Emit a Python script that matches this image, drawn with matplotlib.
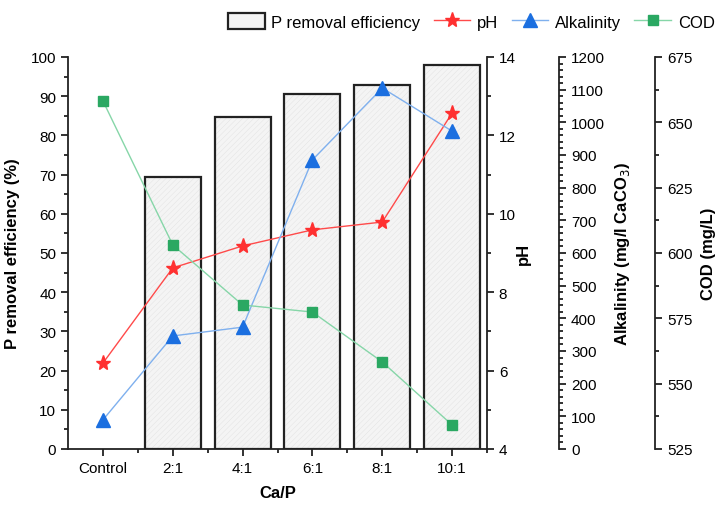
import numpy as np
import matplotlib
matplotlib.use("Agg")
import matplotlib.pyplot as plt
from matplotlib.patches import Patch
from matplotlib.lines import Line2D
from matplotlib.ticker import MultipleLocator

plt.rcParams['font.family'] = ['Liberation Sans', 'DejaVu Sans']
plt.rcParams['hatch.linewidth'] = 0.3

ratios = ["Control", "2:1", "4:1", "6:1", "8:1", "10:1"]
p_removal = [np.nan, 69.4, 84.6, 90.6, 92.9, 98.0]
ph = [6.19, 8.62, 9.18, 9.59, 9.79, 12.57]
alkalinity = [89, 346, 373, 885, 1105, 973]
cod = [658.2, 603.1, 580.1, 577.4, 558.3, 534.2]

ink = '#222222'
spine_w = 1.3

fig = plt.figure(figsize=(7.18, 5.06), dpi=100)
ax = fig.add_axes([0.0947, 0.1107, 0.5836, 0.7747])
x = np.arange(len(ratios))

# bars: hatched light fill, then black outline
ax.bar(x, p_removal, width=0.8, color='#f4f4f4', hatch='//////',
       edgecolor='#e0e0e0', linewidth=0, zorder=1)
ax.bar(x, p_removal, width=0.8, fill=False, edgecolor=ink, linewidth=1.6, zorder=2)

ax.set_xlim(-0.5, 5.5)
ax.set_ylim(0, 100)
ax.set_xticks(x)
ax.set_xticklabels(ratios)
ax.set_xticks(x + 0.5, minor=True)
ax.yaxis.set_major_locator(MultipleLocator(10))
ax.yaxis.set_minor_locator(MultipleLocator(5))
ax.spines['top'].set_visible(False)
ax.spines['right'].set_visible(False)
for s in ['left', 'bottom']:
    ax.spines[s].set_linewidth(spine_w)
    ax.spines[s].set_color(ink)
ax.tick_params(which='both', direction='out', width=spine_w, color=ink, labelsize=11)
ax.tick_params(which='major', length=5)
ax.tick_params(which='minor', length=3)
ax.set_xlabel("Ca/P", fontsize=12, fontweight='bold', labelpad=7)
ax.set_ylabel("P removal efficiency (%)", fontsize=12, fontweight='bold', labelpad=8)


def make_twin(offset_pt):
    t = ax.twinx()
    for s in ['top', 'left', 'bottom']:
        t.spines[s].set_visible(False)
    t.spines['right'].set_position(('outward', offset_pt))
    t.spines['right'].set_linewidth(spine_w)
    t.spines['right'].set_color(ink)
    t.tick_params(which='both', direction='out', width=spine_w, color=ink, labelsize=11)
    t.tick_params(which='major', length=5)
    t.tick_params(which='minor', length=3)
    return t


ax_ph = make_twin(0)
ax_ph.plot(x, ph, color='#ff4a4a', lw=1.0, marker='*', markersize=11,
           markerfacecolor='#ff3030', markeredgecolor='#ff3030', zorder=3)
ax_ph.set_ylim(4, 14)
ax_ph.yaxis.set_major_locator(MultipleLocator(2))
ax_ph.yaxis.set_minor_locator(MultipleLocator(1))
ax_ph.set_ylabel("pH", fontsize=12, fontweight='bold', labelpad=0)

ax_alk = make_twin(52)
ax_alk.plot(x, alkalinity, color='#7fb0ee', lw=1.0, marker='^', markersize=10,
            markerfacecolor='#1b6fe0', markeredgecolor='#1b6fe0', zorder=3)
ax_alk.set_ylim(0, 1200)
ax_alk.yaxis.set_major_locator(MultipleLocator(100))
ax_alk.yaxis.set_minor_locator(MultipleLocator(20))
ax_alk.set_ylabel("Alkalinity (mg/l CaCO$_3$)", fontsize=12, fontweight='bold', labelpad=6)

ax_cod = make_twin(121)
ax_cod.plot(x, cod, color='#86d6a8', lw=1.0, marker='s', markersize=7.5,
            markerfacecolor='#2aa862', markeredgecolor='#2aa862', zorder=3)
ax_cod.set_ylim(525, 675)
ax_cod.yaxis.set_major_locator(MultipleLocator(25))
ax_cod.yaxis.set_minor_locator(MultipleLocator(12.5))
ax_cod.set_ylabel("COD (mg/L)", fontsize=12, fontweight='bold', labelpad=6)

handles = [
    Patch(facecolor='#f4f4f4', edgecolor=ink, linewidth=1.6),
    Line2D([], [], color='#ff4a4a', lw=1.0, marker='*', markersize=11,
           markerfacecolor='#ff3030', markeredgecolor='#ff3030'),
    Line2D([], [], color='#7fb0ee', lw=1.0, marker='^', markersize=10,
           markerfacecolor='#1b6fe0', markeredgecolor='#1b6fe0'),
    Line2D([], [], color='#86d6a8', lw=1.0, marker='s', markersize=7.5,
           markerfacecolor='#2aa862', markeredgecolor='#2aa862'),
]
labels = ["P removal efficiency", "pH", "Alkalinity", "COD"]
fig.legend(handles, labels, loc='center right', bbox_to_anchor=(1.0, 0.955), ncol=4,
           frameon=False, fontsize=12, handlelength=2.2, handleheight=1.1,
           handletextpad=0.4, columnspacing=0.8, borderpad=0.1, borderaxespad=0.1)

fig.savefig("out.png", dpi=100)
